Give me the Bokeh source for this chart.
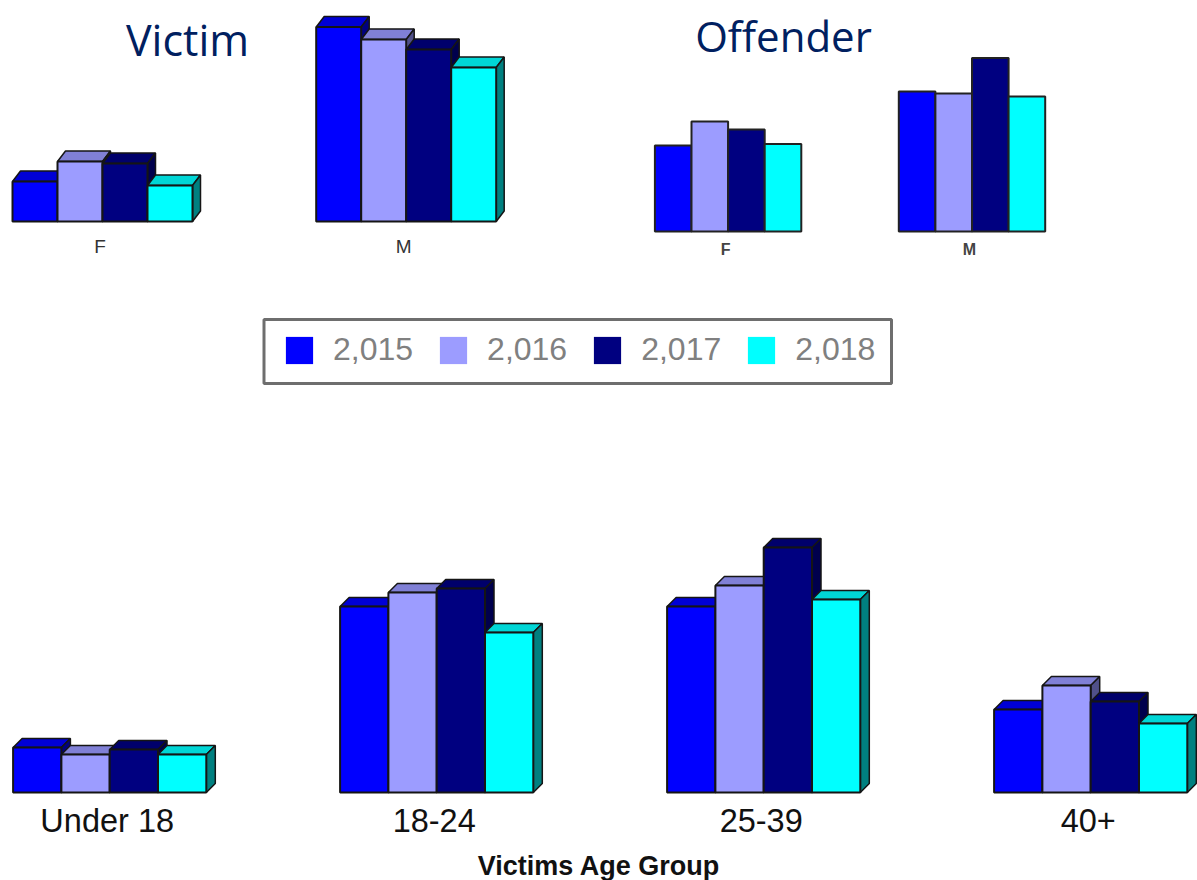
from bokeh.embed import file_html
from bokeh.resources import INLINE
from bokeh.plotting import figure
from bokeh.layouts import column, row
from bokeh.models import Range1d, FixedTicker, Legend, LegendItem, ColumnDataSource
from bokeh.core.properties import value

years = ["2,015", "2,016", "2,017", "2,018"]
front_colors = ["#0000FF", "#9C9CFF", "#000080", "#00FFFF"]
top_colors = ["#0000D6", "#8080D6", "#00006B", "#00D6D6"]
side_colors = ["#000080", "#50508A", "#00004D", "#008080"]

gender = ["F", "M"]
victim_2015 = [40, 194.5]
victim_2016 = [60, 182]
victim_2017 = [58, 172]
victim_2018 = [36, 154]

offender_2015 = [86, 140]
offender_2016 = [110, 138]
offender_2017 = [102, 173.5]
offender_2018 = [87.5, 135]

age_groups = ["Under 18", "18-24", "25-39", "40+"]
age_2015 = [45, 186, 186, 83]
age_2016 = [38, 200, 207, 107]
age_2017 = [43, 204, 245, 91]
age_2018 = [38, 160, 193, 69]


def chart(w, h, base, start, pitch, bar, cats, series, depth, line):
    p = figure(width=w, height=h, frame_width=w, frame_height=base + 3,
               x_range=Range1d(0, w), y_range=Range1d(-3, base),
               toolbar_location=None, output_backend="svg",
               min_border=0, min_border_left=0, min_border_right=0, min_border_top=0,
               min_border_bottom=h - base - 3,
               outline_line_color=None, background_fill_color="white")
    p.grid.visible = False
    p.yaxis.visible = False
    dx, dy = depth
    for j, vals in enumerate(series):
        lefts = [start + i * pitch + j * bar for i in range(len(cats))]
        if dx:
            top_x = [[x, x + bar, x + bar + dx, x + dx] for x in lefts]
            top_y = [[v, v, v + dy, v + dy] for v in vals]
            side_x = [[x + bar, x + bar + dx, x + bar + dx, x + bar] for x in lefts]
            side_y = [[0, dy, v + dy, v] for v in vals]
            p.patches(top_x, top_y, fill_color=top_colors[j], line_color=line, line_width=1.5)
            p.patches(side_x, side_y, fill_color=side_colors[j], line_color=line, line_width=1.5)
        p.vbar(x=[x + bar / 2 for x in lefts], top=vals, bottom=0, width=bar,
               fill_color=front_colors[j], line_color=line, line_width=2)
    ax = p.xaxis[0]
    centers = [start + i * pitch + 2 * bar - 2.5 for i in range(len(cats))]
    ax.ticker = FixedTicker(ticks=centers)
    ax.major_label_overrides = dict(zip(centers, cats))
    ax.axis_line_color = None
    ax.major_tick_line_color = None
    ax.minor_tick_line_color = None
    return p


fv = chart(640, 300, 221, 12, 303.7, 45,
           gender, [victim_2015, victim_2016, victim_2017, victim_2018], (8, 10.5), "#151515")
a = fv.xaxis[0]
a.major_label_text_font = "Liberation Sans"
a.major_label_text_font_size = "19px"
a.major_label_text_color = "#333333"
a.major_label_standoff = 5
fv.text(x=[187], y=[182], text=["Victim"], text_font=value("Open Sans"), text_font_size="43px",
        text_color="#002060", text_align="center", text_baseline="middle")

fo = chart(557, 300, 231, 14.4, 243.9, 36.6,
           gender, [offender_2015, offender_2016, offender_2017, offender_2018], (0, 0), "#222222")
a = fo.xaxis[0]
a.major_label_text_font = "Liberation Sans"
a.major_label_text_font_size = "16px"
a.major_label_text_font_style = "bold"
a.major_label_text_color = "#444444"
a.major_label_standoff = 0
fo.text(x=[143], y=[196], text=["Offender"], text_font=value("Open Sans"), text_font_size="42px",
        text_color="#002060", text_align="center", text_baseline="middle")

fl = figure(width=1197, height=100, frame_width=1197, frame_height=100,
            x_range=Range1d(0, 1197), y_range=Range1d(0, 100),
            toolbar_location=None, output_backend="svg", min_border=0,
            outline_line_color=None, x_axis_location=None, y_axis_location=None)
fl.grid.visible = False
fl.quad(left=[263.5], right=[891], top=[81], bottom=[17], fill_color="white",
        line_color="#6E6E6E", line_width=3)
items = []
for year, color in zip(years, front_colors):
    src = ColumnDataSource(dict(x=[-10], top=[0]))
    r = fl.vbar(x="x", top="top", width=1, source=src, fill_color=color, line_color=None)
    items.append(LegendItem(label=year, renderers=[r]))
leg = Legend(items=items, orientation="horizontal", location=(282, 32),
             glyph_width=34, glyph_height=34, label_standoff=17, spacing=23, padding=10,
             label_text_font="Liberation Sans", label_text_font_size="32px",
             label_text_color="#808080", border_line_color=None,
             background_fill_alpha=0)
fl.add_layout(leg, "center")

fb = chart(1197, 480, 392, 12.6, 327, 48.3,
           age_groups, [age_2015, age_2016, age_2017, age_2018], (9, 9), "#151515")
a = fb.xaxis[0]
a.major_label_text_font = "Liberation Sans"
a.major_label_text_font_size = "32.5px"
a.major_label_text_color = "#111111"
a.major_label_standoff = 1
a.axis_label = "Victims Age Group"
a.axis_label_text_font = "Liberation Sans"
a.axis_label_text_font_size = "27px"
a.axis_label_text_font_style = "bold"
a.axis_label_text_color = "#111111"
a.axis_label_standoff = 9

page = column(row(fv, fo, spacing=0), fl, fb, spacing=0)
page.styles = {"position": "absolute", "left": "0", "top": "0"}

open("out.html", "w").write(file_html(page, INLINE))
